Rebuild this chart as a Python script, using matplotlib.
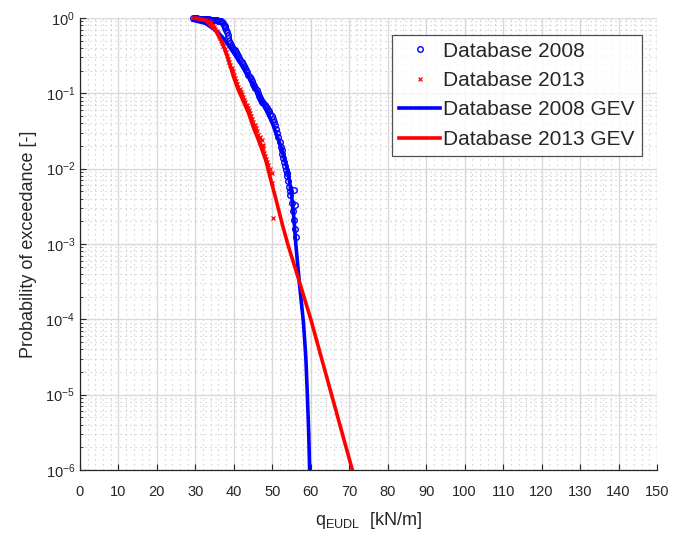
import matplotlib

matplotlib.use("Agg")

import matplotlib.pyplot as plt
import numpy as np
from matplotlib.ticker import FixedLocator, LogLocator, NullFormatter

plt.rcParams["font.family"] = ["Liberation Sans", "DejaVu Sans"]
plt.rcParams["mathtext.fontset"] = "custom"
plt.rcParams["mathtext.rm"] = "Liberation Sans"
plt.rcParams["mathtext.it"] = "Liberation Sans:italic"

# empirical exceedance, database 2008 (x in kN/m, log10 of probability)
db2008_x = [29.5, 29.9, 30.3, 30.7, 31.1, 31.5, 31.9, 32.3, 32.7, 33.1, 33.5, 33.9,
            34.3, 34.7, 35.1, 35.5, 35.9, 36.3, 36.7, 37.0, 37.2, 37.4, 37.6, 37.8,
            38.0, 38.2, 38.4, 38.6, 38.8, 39.0, 39.3, 39.6, 39.9, 40.2, 40.5, 40.8,
            41.1, 41.4, 41.7, 42.0, 42.3, 42.6, 42.9, 43.2, 43.5, 43.8, 44.1, 44.4,
            44.7, 45.0, 45.3, 45.6, 45.9, 46.2, 46.5, 46.8, 47.1, 47.4, 47.7, 48.0,
            48.3, 48.6, 48.9, 49.2, 49.5, 49.8, 50.1, 50.4, 50.7, 51.0, 51.3, 51.6,
            51.9, 52.2, 52.4, 52.6, 52.9, 53.1, 53.3, 53.5, 53.7, 53.9, 54.1, 54.3,
            54.5, 54.7, 55.0, 55.3, 55.6, 55.9, 56.1, 55.7, 56.0]
db2008_logp = [0.0, -0.003, -0.005, -0.007, -0.008, -0.01, -0.012, -0.013, -0.015, -0.017, -0.019, -0.021,
               -0.023, -0.026, -0.028, -0.031, -0.034, -0.038, -0.045, -0.055, -0.07, -0.09, -0.11, -0.135,
               -0.16, -0.19, -0.225, -0.26, -0.30, -0.33, -0.355, -0.38, -0.405, -0.43, -0.455, -0.48,
               -0.51, -0.535, -0.56, -0.585, -0.61, -0.635, -0.66, -0.69, -0.72, -0.75, -0.78, -0.81,
               -0.84, -0.87, -0.90, -0.93, -0.96, -0.995, -1.03, -1.065, -1.095, -1.115, -1.13, -1.15,
               -1.175, -1.195, -1.215, -1.24, -1.27, -1.30, -1.34, -1.38, -1.42, -1.47, -1.52, -1.58,
               -1.64, -1.71, -1.755, -1.80, -1.86, -1.91, -1.965, -2.02, -2.06, -2.10, -2.17, -2.24,
               -2.29, -2.35, -2.46, -2.56, -2.68, -2.80, -2.91, -2.28, -2.48]

# empirical exceedance, database 2013
db2013_x = [29.3, 29.8, 30.3, 30.8, 31.3, 31.8, 32.3, 32.8, 33.3, 33.7, 34.1, 34.5,
            34.9, 35.2, 35.5, 35.8, 36.1, 36.4, 36.7, 37.0, 37.3, 37.6, 37.9, 38.2,
            38.5, 38.8, 39.1, 39.4, 39.7, 40.0, 40.3, 40.6, 40.9, 41.2, 41.5, 41.8,
            42.1, 42.4, 42.7, 43.0, 43.3, 43.6, 43.9, 44.2, 44.5, 44.8, 45.1, 45.4,
            45.7, 46.0, 46.3, 46.6, 46.9, 47.2, 47.5, 47.8, 48.1, 48.4, 48.7, 49.0,
            49.4, 50.0, 49.9, 50.3, 46.8, 47.3, 47.6]
db2013_logp = [0.0, -0.003, -0.006, -0.01, -0.014, -0.018, -0.024, -0.03, -0.04, -0.055, -0.07, -0.09,
               -0.115, -0.14, -0.17, -0.20, -0.235, -0.27, -0.30, -0.33, -0.37, -0.41, -0.455, -0.50,
               -0.54, -0.58, -0.62, -0.665, -0.71, -0.755, -0.79, -0.83, -0.87, -0.91, -0.945, -0.98,
               -1.015, -1.05, -1.085, -1.12, -1.155, -1.19, -1.225, -1.26, -1.30, -1.34, -1.38, -1.42,
               -1.46, -1.50, -1.55, -1.60, -1.65, -1.70, -1.74, -1.79, -1.83, -1.87, -1.91, -1.95,
               -2.00, -2.06, -2.19, -2.66, -1.58, -1.62, -1.68]

# fitted GEV curves (exceedance probability)
gev2008_x = [29.5, 32.6, 35.2, 37.0, 38.5, 40.0, 42.0, 44.0, 46.0, 48.0, 50.0, 52.0,
             54.0, 55.0, 55.6, 56.1, 57.1, 58.1, 58.7, 59.1, 59.45, 59.7]
gev2008_p = [0.93, 0.85, 0.69, 0.56, 0.44, 0.34, 0.235, 0.16, 0.105, 0.066, 0.040, 0.0214,
             0.0095, 0.0045, 0.0022, 1.0e-3, 2.8e-4, 8.9e-5, 3.2e-5, 1.0e-5, 3.2e-6, 1.0e-6]

gev2013_x = [29.5, 32.6, 35.2, 37.0, 38.4, 39.9, 41.2, 43.8, 45.1, 46.4, 48.3, 49.6,
             50.9, 52.5, 54.0, 57.0, 60.0, 65.4, 70.8]
gev2013_p = [1.0, 0.93, 0.69, 0.47, 0.30, 0.166, 0.11, 0.055, 0.035, 0.024, 0.0129, 0.0071,
             0.0040, 0.0019, 1.0e-3, 3.2e-4, 1.0e-4, 1.0e-5, 1.0e-6]

x_ticks = list(range(0, 151, 10))

text_color = "#262626"

fig = plt.figure(figsize=(6.74, 5.34), dpi=100)
ax = fig.add_axes([80 / 674, 1 - 470 / 534, 577 / 674, 452 / 534])

ax.plot(db2008_x, 10 ** np.array(db2008_logp), "o", color="blue", markersize=4,
        markerfacecolor="none", markeredgewidth=1.0, label="Database 2008", clip_on=False, zorder=3)
ax.plot(db2013_x, 10 ** np.array(db2013_logp), "x", color="red", markersize=3.5,
        markeredgewidth=0.9, label="Database 2013", clip_on=False, zorder=3)
ax.plot(gev2008_x, gev2008_p, "-", color="blue", linewidth=2.6, label="Database 2008 GEV", zorder=4)
ax.plot(gev2013_x, gev2013_p, "-", color="red", linewidth=2.6, label="Database 2013 GEV", zorder=4)

ax.set_yscale("log")
ax.set_xlim(0, 150)
ax.set_ylim(1e-6, 1)
ax.xaxis.set_major_locator(FixedLocator(x_ticks))
ax.xaxis.set_minor_locator(FixedLocator(np.arange(0, 151, 2)))
ax.yaxis.set_major_locator(LogLocator(base=10, numticks=10))
ax.yaxis.set_minor_locator(LogLocator(base=10, subs=np.arange(2, 10), numticks=20))
ax.yaxis.set_minor_formatter(NullFormatter())

ax.grid(True, which="major", color="#d9d9d9", linewidth=1.0, linestyle="-")
ax.grid(True, which="minor", color="#c4c4c4", linewidth=0.8, linestyle=(0, (1, 3.5)))
ax.set_axisbelow(True)

for side in ("top", "right"):
    ax.spines[side].set_visible(False)
for side in ("left", "bottom"):
    ax.spines[side].set_color(text_color)
    ax.spines[side].set_linewidth(0.9)

ax.tick_params(axis="both", which="major", direction="in", length=4, colors=text_color,
               labelsize=10.5, width=0.8)
ax.tick_params(axis="y", which="minor", direction="in", length=2, colors=text_color, width=0.6)
ax.tick_params(axis="x", which="minor", length=0)
ax.tick_params(axis="x", which="major", pad=11)

ax.set_xlabel(r"q$_{\mathrm{EUDL}}$  [kN/m]", fontsize=13, color=text_color, labelpad=8)
ax.set_ylabel("Probability of exceedance [-]", fontsize=13, color=text_color, labelpad=6)

leg = ax.legend(loc="upper left", bbox_to_anchor=(392 / 674, 1 - 35 / 534),
                bbox_transform=fig.transFigure, fontsize=15, numpoints=1,
                handlelength=2.0, handletextpad=0.15, labelspacing=0.5,
                borderpad=0.32, borderaxespad=0, fancybox=False, frameon=True)
leg.get_frame().set_edgecolor(text_color)
leg.get_frame().set_linewidth(0.9)
for t in leg.get_texts():
    t.set_color(text_color)

fig.savefig("out.png", dpi=100)
plt.close(fig)
